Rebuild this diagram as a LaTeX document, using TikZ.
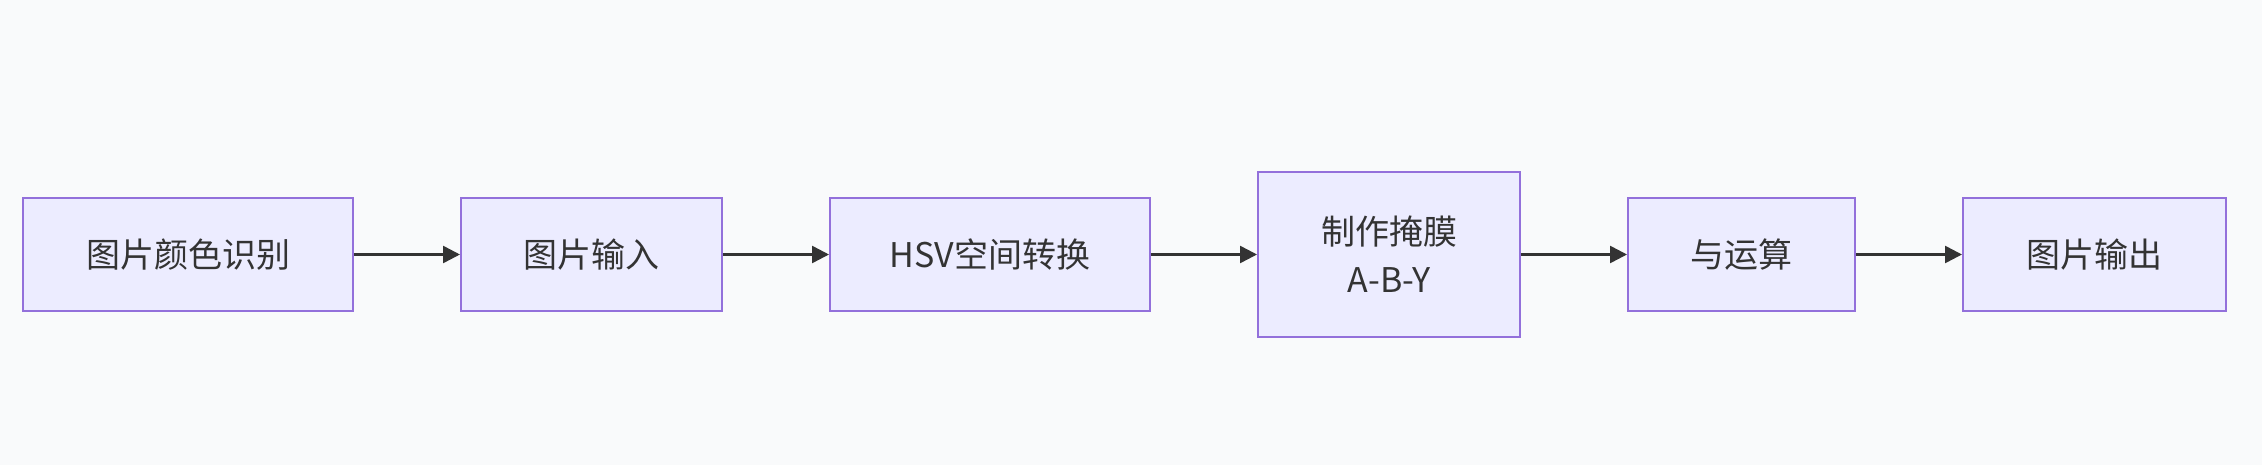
\documentclass[tikz,border=0pt]{standalone}
\usepackage{fontspec}
\setmainfont{Noto Sans CJK SC}
\definecolor{boxfill}{HTML}{ECECFF}
\definecolor{boxline}{HTML}{9370DB}
\definecolor{arrowgray}{HTML}{333333}
\definecolor{bggray}{HTML}{F9FAFB}
\usetikzlibrary{positioning, arrows.meta}

\begin{document}
\begin{tikzpicture}[x=1pt, y=1pt, node distance=106pt,
  box/.style={draw=boxline, fill=boxfill, line width=2pt, minimum height=113pt,
              align=center, inner sep=0pt, text=arrowgray, font=\fontsize{34}{48}\selectfont},
  arr/.style={-{Triangle[length=17pt, width=17pt]}, line width=2.5pt, arrowgray}]
  \useasboundingbox[fill=bggray] (0,-465) rectangle (2262,0);
  \node[box, minimum width=330pt] (recog) at (188,-254.5) {图片颜色识别};
  \node[box, minimum width=261pt, right=of recog] (input) {图片输入};
  \node[box, minimum width=320pt, right=of input] (hsv) {HSV空间转换};
  \node[box, minimum width=262pt, minimum height=164pt, right=of hsv] (mask) {制作掩膜\\A-B-Y};
  \node[box, minimum width=227pt, right=of mask] (andop) {与运算};
  \node[box, minimum width=263pt, right=of andop] (output) {图片输出};
  % connectors
  \draw[arr] (recog) -- (input);
  \draw[arr] (input) -- (hsv);
  \draw[arr] (hsv) -- (mask);
  \draw[arr] (mask) -- (andop);
  \draw[arr] (andop) -- (output);
\end{tikzpicture}
\end{document}
